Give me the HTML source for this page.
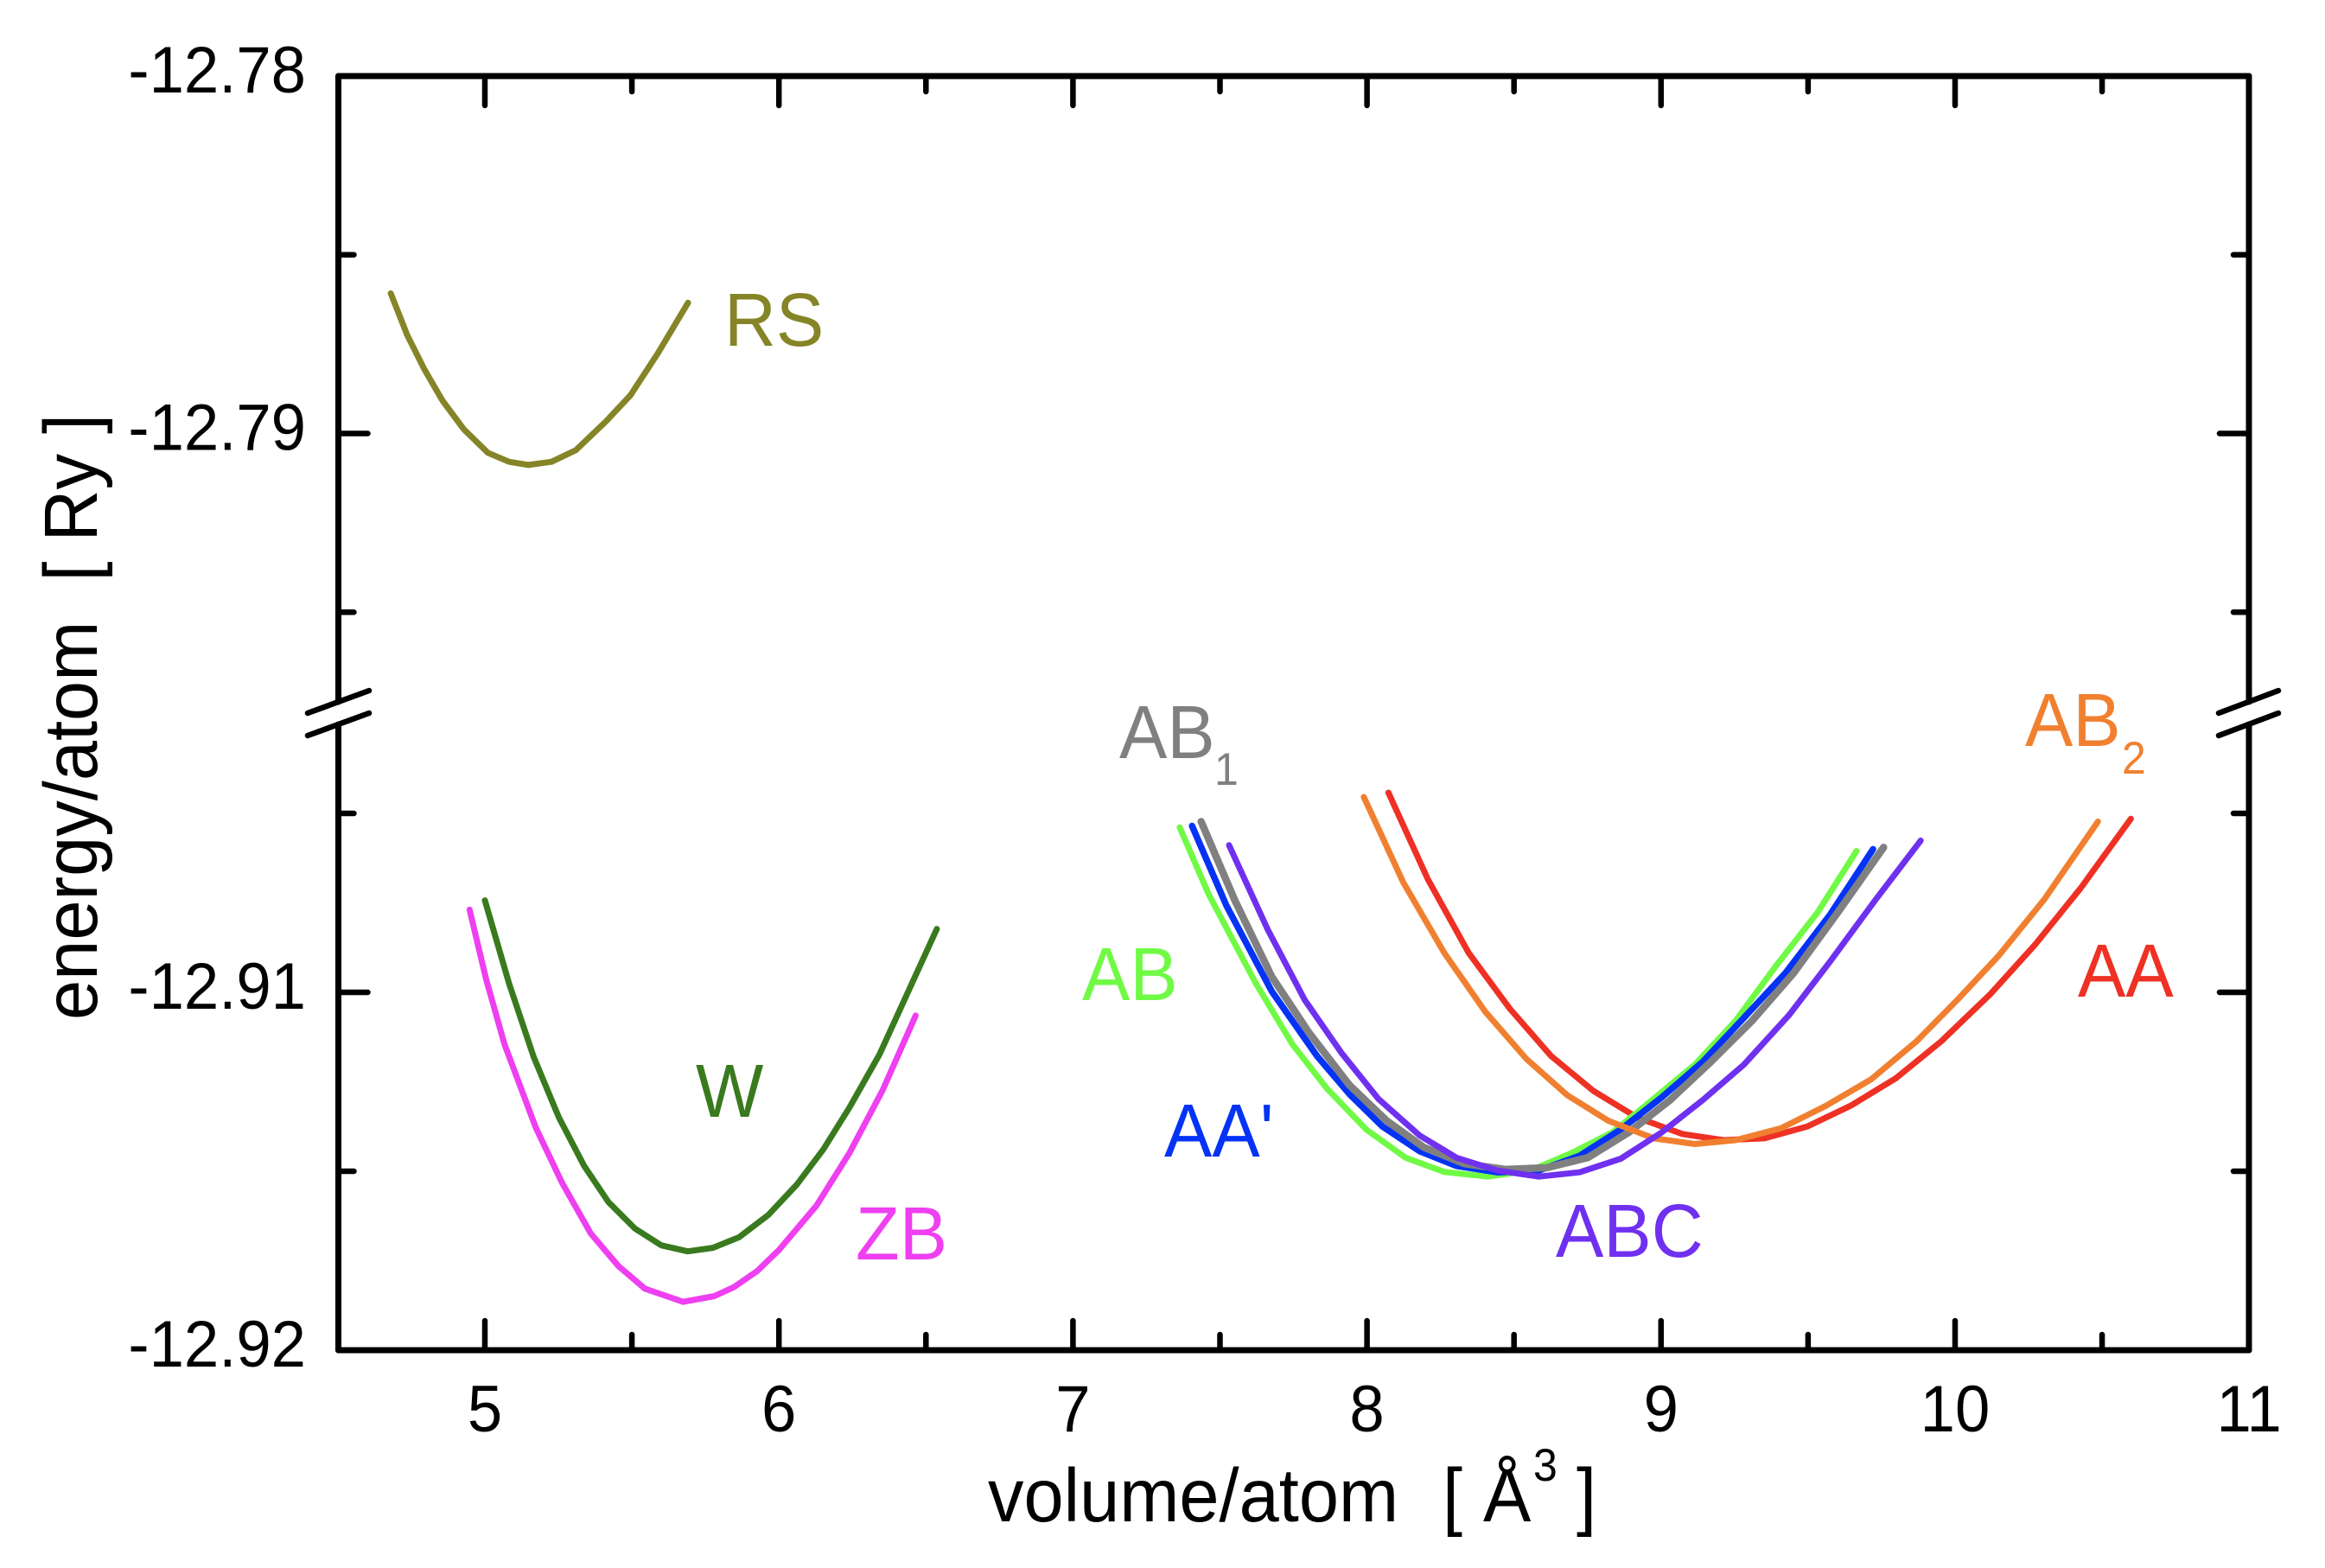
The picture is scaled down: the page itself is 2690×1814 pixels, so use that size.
<!DOCTYPE html>
<html lang="en">
<head>
<meta charset="utf-8">
<title>Energy vs volume per atom</title>
<style>
html,body{margin:0;padding:0;background:#fff;width:2690px;height:1814px;overflow:hidden}
svg{display:block}
text{font-family:"Liberation Sans",Arial,sans-serif;white-space:pre}
</style>
</head>
<body>
<svg id="chart" xmlns="http://www.w3.org/2000/svg" width="2690" height="1814" viewBox="0 0 2690 1814">
  <g id="axes"></g>
  <g id="series"></g>
  <g id="labels" font-size="83">
    <text x="838" y="400" fill="#858528">RS</text>
    <text x="805" y="1292" fill="#3A7A1E">W</text>
    <text x="990" y="1457" fill="#EE3FF0">ZB</text>
    <text x="1252" y="1157" fill="#70FA45">AB</text>
    <text x="1347" y="1338" fill="#0433F5">AA'</text>
    <text x="1295" y="877" fill="#808080">AB</text>
    <text x="1405" y="908" fill="#808080" font-size="50">1</text>
    <text x="2343" y="863" fill="#F08030">AB</text>
    <text x="2455" y="895" fill="#F08030" font-size="50">2</text>
    <text x="1800" y="1454" fill="#7030F0">ABC</text>
    <text x="2404" y="1153" fill="#EE3124">AA</text>
  </g>
  <g id="titles" font-size="83" fill="#000">
    <text x="1143" y="1760">volume/atom</text>
    <text x="1669" y="1760">[</text>
    <text x="1716" y="1760">Å</text>
    <text x="1774" y="1713" font-size="50">3</text>
    <text x="1824" y="1760">]</text>
    <text id="ytitle" transform="translate(112,1180) rotate(-90) scale(1,1.05)">energy/atom  [ Ry ]</text>
  </g>
</svg>
<script>
// Axis tick data
var xMajorTicks = [5, 6, 7, 8, 9, 10, 11];
var xMinorTicks = [5.5, 6.5, 7.5, 8.5, 9.5, 10.5];
var yMajorTicks = [-12.78, -12.79, -12.91, -12.92];
var yMinorTicks = [-12.785, -12.795, -12.905, -12.915];
var yTickLabels = ["-12.78", "-12.79", "-12.91", "-12.92"];

// Series data (volume/atom, energy/atom)
var rsV = [4.680,4.736,4.794,4.856,4.928,5.010,5.082,5.148,5.227,5.309,5.412,5.495,5.588,5.691];
var rsE = [-12.78608,-12.78725,-12.7882,-12.78908,-12.78988,-12.79054,-12.79079,-12.79088,-12.79079,-12.79047,-12.78966,-12.78893,-12.78776,-12.78634];
var wV = [5.000,5.083,5.166,5.252,5.337,5.420,5.510,5.600,5.690,5.775,5.865,5.964,6.061,6.151,6.240,6.342,6.443,6.537];
var wE = [-12.90743,-12.90977,-12.91181,-12.9135,-12.91484,-12.91586,-12.9166,-12.91707,-12.91724,-12.91714,-12.91684,-12.91622,-12.91537,-12.91439,-12.91322,-12.91174,-12.90992,-12.90823];
var zbV = [4.948,5.004,5.067,5.173,5.263,5.360,5.454,5.544,5.674,5.780,5.847,5.926,6.000,6.128,6.240,6.353,6.465];
var zbE = [-12.90769,-12.90963,-12.91146,-12.91378,-12.91533,-12.91674,-12.91765,-12.91828,-12.91865,-12.91849,-12.91824,-12.91779,-12.9172,-12.91596,-12.91449,-12.91273,-12.91065];
var abV = [7.363,7.461,7.620,7.746,7.863,7.997,8.131,8.263,8.411,8.556,8.696,8.835,8.933,9.115,9.254,9.394,9.534,9.665];
var abE = [-12.90539,-12.90725,-12.90972,-12.91145,-12.91268,-12.91383,-12.91462,-12.91502,-12.91515,-12.91498,-12.91449,-12.91391,-12.91326,-12.91202,-12.91079,-12.90923,-12.90775,-12.90605];
var aapV = [7.405,7.522,7.676,7.830,7.941,8.053,8.179,8.304,8.444,8.584,8.723,8.863,9.003,9.142,9.282,9.422,9.575,9.721];
var aapE = [-12.90535,-12.90758,-12.90997,-12.91178,-12.91285,-12.91375,-12.91444,-12.91485,-12.91503,-12.91498,-12.91457,-12.91383,-12.91293,-12.91194,-12.91071,-12.90947,-12.90783,-12.906];
var ab1V = [7.436,7.550,7.676,7.802,7.941,8.067,8.193,8.332,8.472,8.612,8.751,8.891,9.031,9.170,9.310,9.450,9.603,9.757];
var ab1E = [-12.90523,-12.90742,-12.90956,-12.91112,-12.9126,-12.91359,-12.91433,-12.91479,-12.91495,-12.9149,-12.91462,-12.91391,-12.91301,-12.91194,-12.91079,-12.90947,-12.90775,-12.90595];
var abcV = [7.531,7.662,7.788,7.913,8.039,8.179,8.304,8.444,8.584,8.723,8.863,9.003,9.142,9.282,9.436,9.575,9.729,9.883];
var abcE = [-12.90589,-12.90824,-12.91021,-12.91169,-12.91298,-12.914,-12.91462,-12.91498,-12.91515,-12.91503,-12.91465,-12.91391,-12.91301,-12.91202,-12.91063,-12.90914,-12.90742,-12.90576];
var ab2V = [7.989,8.123,8.263,8.402,8.542,8.682,8.821,8.975,9.115,9.254,9.408,9.561,9.715,9.869,10.008,10.148,10.302,10.486];
var ab2E = [-12.90454,-12.90692,-12.9089,-12.91054,-12.91186,-12.91288,-12.91359,-12.91408,-12.91424,-12.91413,-12.9138,-12.91317,-12.91243,-12.91137,-12.91021,-12.90898,-12.90742,-12.90523];
var aaV = [8.073,8.207,8.346,8.486,8.626,8.771,8.919,9.073,9.212,9.352,9.497,9.645,9.799,9.953,10.120,10.274,10.427,10.598];
var aaE = [-12.90442,-12.90684,-12.9089,-12.91046,-12.91178,-12.91276,-12.9135,-12.91396,-12.91413,-12.91408,-12.91375,-12.91317,-12.9124,-12.91137,-12.91005,-12.90865,-12.90709,-12.90515];

var NS = "http://www.w3.org/2000/svg";
var LEFT = 391.5, RIGHT = 2602, TOP = 88, BOTTOM = 1562;

function xScale(v) { return 561 + (v - 5) * 340.2; }
function yScale(e) {
  if (e > -12.85) { return 88 + (-12.78 - e) * 41350; }
  return 1148 + (-12.91 - e) * 41400;
}

function makeLine(parent, x1, y1, x2, y2, w) {
  var l = document.createElementNS(NS, "line");
  l.setAttribute("x1", x1); l.setAttribute("y1", y1);
  l.setAttribute("x2", x2); l.setAttribute("y2", y2);
  l.setAttribute("stroke", "#000");
  l.setAttribute("stroke-width", w);
  l.setAttribute("stroke-linecap", "round");
  parent.appendChild(l);
  return l;
}

var axes = document.getElementById("axes");
var el;
var AW = 7, TW = 6.5;

el = makeLine(axes, LEFT, TOP, RIGHT, TOP, AW);


el = makeLine(axes, LEFT, BOTTOM, RIGHT, BOTTOM, AW);


el = makeLine(axes, LEFT, TOP, LEFT, 812, AW);


el = makeLine(axes, LEFT, 838, LEFT, BOTTOM, AW);


el = makeLine(axes, RIGHT, TOP, RIGHT, 812, AW);


el = makeLine(axes, RIGHT, 838, RIGHT, BOTTOM, AW);



el = makeLine(axes, 356, 825, 427, 799, TW);


el = makeLine(axes, 356, 851, 427, 825, TW);


el = makeLine(axes, 2567, 825, 2636, 799, TW);


el = makeLine(axes, 2567, 851, 2636, 825, TW);



xMajorTicks.forEach(function (v) {
  var x = xScale(v);
  var a = makeLine(axes, x, BOTTOM, x, BOTTOM - 34, TW);
  
  
  var b = makeLine(axes, x, TOP, x, TOP + 34, TW);
  
  
  var t = document.createElementNS(NS, "text");
  t.setAttribute("x", x);
  t.setAttribute("y", 1656);
  t.setAttribute("font-size", "72.5");
  t.setAttribute("text-anchor", "middle");
  
  
  t.textContent = String(v);
  axes.appendChild(t);
});
xMinorTicks.forEach(function (v) {
  var x = xScale(v);
  var a = makeLine(axes, x, BOTTOM, x, BOTTOM - 18, TW);
  
  
  var b = makeLine(axes, x, TOP, x, TOP + 18, TW);
  
  
});
yMajorTicks.forEach(function (e, i) {
  var y = yScale(e);
  var a = makeLine(axes, LEFT, y, LEFT + 34, y, TW);
  
  
  var b = makeLine(axes, RIGHT, y, RIGHT - 34, y, TW);
  
  
  var t = document.createElementNS(NS, "text");
  t.setAttribute("x", 354);
  t.setAttribute("y", y + 19);
  t.setAttribute("font-size", "72.5");
  t.setAttribute("text-anchor", "end");
  
  
  t.textContent = yTickLabels[i];
  axes.appendChild(t);
});
yMinorTicks.forEach(function (e) {
  var y = yScale(e);
  var a = makeLine(axes, LEFT, y, LEFT + 18, y, TW);
  
  
  var b = makeLine(axes, RIGHT, y, RIGHT - 18, y, TW);
  
  
});

function drawSeries(name, vs, es, color, width) {
  var pts = vs.map(function (v, i) {
    return xScale(v).toFixed(1) + "," + yScale(es[i]).toFixed(1);
  }).join(" ");
  var p = document.createElementNS(NS, "polyline");
  p.setAttribute("points", pts);
  p.setAttribute("fill", "none");
  p.setAttribute("stroke", color);
  p.setAttribute("stroke-width", width);
  p.setAttribute("stroke-linejoin", "round");
  p.setAttribute("stroke-linecap", "round");
  
  
  document.getElementById("series").appendChild(p);
}

drawSeries("series-rs", rsV, rsE, "#858528", 7);
drawSeries("series-w", wV, wE, "#3A7A1E", 7);
drawSeries("series-zb", zbV, zbE, "#EE3FF0", 7);
drawSeries("series-aa", aaV, aaE, "#EE3124", 7);
drawSeries("series-ab", abV, abE, "#70FA45", 7);
drawSeries("series-aa-prime", aapV, aapE, "#0433F5", 7.5);
drawSeries("series-ab1", ab1V, ab1E, "#808080", 8.5);
drawSeries("series-ab2", ab2V, ab2E, "#F08030", 7);
drawSeries("series-abc", abcV, abcE, "#7030F0", 7);

// Glyphs in the reference are slightly taller than Liberation's proportions
Array.prototype.forEach.call(document.querySelectorAll("#chart text[y]"), function (t) {
  var by = t.getAttribute("y");
  t.setAttribute("transform", "translate(0," + by + ") scale(1,1.05) translate(0," + (-by) + ")");
});
</script>
</body>
</html>
